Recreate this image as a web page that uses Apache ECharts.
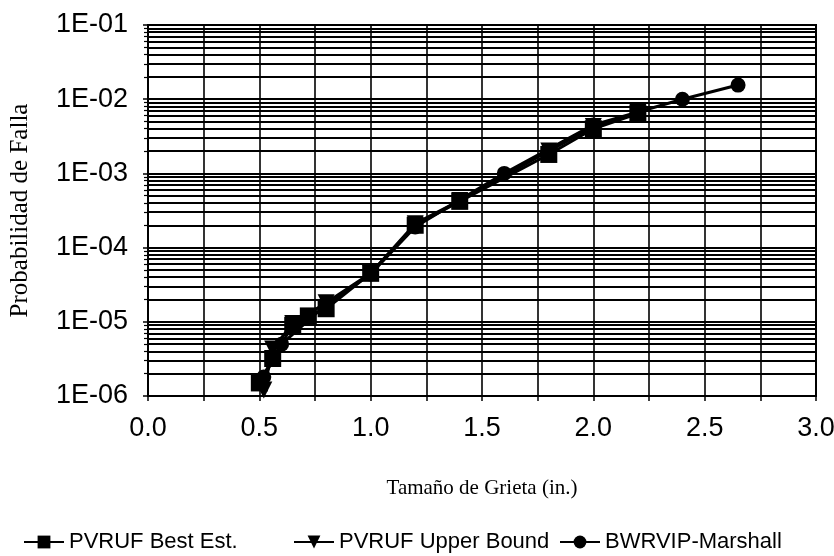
<!DOCTYPE html>
<html>
<head>
<meta charset="utf-8">
<title>Probabilidad de Falla vs Tamaño de Grieta</title>
<script src="https://cdn.jsdelivr.net/npm/echarts@6/dist/echarts.min.js"></script>
<style>
  html, body { margin: 0; padding: 0; background: #ffffff; }
  #chart { width: 834px; height: 556px; }
</style>
</head>
<body>
<div id="chart"></div>
<script>
// Crack size (in.) and failure probability for each model
const bestEstX = [0.50, 0.56, 0.65, 0.72, 0.80, 1.00, 1.20, 1.40, 1.80, 2.00, 2.20];
const bestEstY = [1.5e-6, 3.2e-6, 9.0e-6, 1.2e-5, 1.5e-5, 4.5e-5, 2.0e-4, 4.2e-4, 1.8e-3, 4.0e-3, 6.4e-3];

const upperX = [0.52, 0.56, 0.65, 0.80, 1.00, 1.20, 1.40, 1.80, 2.00, 2.20];
const upperY = [1.2e-6, 4.3e-6, 9.5e-6, 1.8e-5, 4.5e-5, 2.1e-4, 4.3e-4, 2.0e-3, 4.3e-3, 6.6e-3];

const marshallX = [0.52, 0.60, 0.80, 1.00, 1.20, 1.40, 1.60, 2.00, 2.40, 2.65];
const marshallY = [1.8e-6, 5.0e-6, 1.7e-5, 4.4e-5, 1.9e-4, 4.4e-4, 1.0e-3, 4.5e-3, 1.0e-2, 1.55e-2];

const seriesNames = ['PVRUF Best Est.', 'PVRUF Upper Bound', 'BWRVIP-Marshall'];
const yTickLabels = ['1E-06', '1E-05', '1E-04', '1E-03', '1E-02', '1E-01'];
const xTickLabels = ['0.0', '0.5', '1.0', '1.5', '2.0', '2.5', '3.0'];

const zip = (xs, ys) => xs.map((x, i) => [x, ys[i]]);

const sansFont = '"Liberation Sans", Arial, sans-serif';
const serifFont = '"Liberation Serif", "Times New Roman", serif';

const lineStyle = { color: '#000', width: 3 };
const itemStyle = { color: '#000' };

const chart = echarts.init(document.getElementById('chart'), null, { renderer: 'canvas' });

function legendAt(name, left) {
  return {
    data: [name],
    left: left,
    top: 526,
    itemWidth: 40,
    itemHeight: 16,
    itemGap: 6,
    textStyle: { fontFamily: sansFont, fontSize: 22, color: '#000' },
    selectedMode: false
  };
}

chart.setOption({
  backgroundColor: '#ffffff',
  animation: false,
  grid: {
    left: 148, right: 18, top: 25, bottom: 160,
    outerBoundsMode: 'none',
    containLabel: false,
    show: true, borderColor: '#000', borderWidth: 2, backgroundColor: 'transparent'
  },
  legend: [
    legendAt(seriesNames[0], 18),
    legendAt(seriesNames[1], 288),
    legendAt(seriesNames[2], 554)
  ],
  xAxis: {
    type: 'value',
    min: 0, max: 3, interval: 0.5,
    name: 'Tamaño de Grieta (in.)',
    nameLocation: 'middle',
    nameGap: 82,
    nameTextStyle: { fontFamily: serifFont, fontSize: 21, color: '#000' },
    axisLine: { show: true, lineStyle: { color: '#000', width: 2 } },
    axisTick: { show: true, length: 5, lineStyle: { color: '#000', width: 1.5 } },
    minorTick: { show: true, splitNumber: 2, length: 5, lineStyle: { color: '#000', width: 1.5 } },
    axisLabel: {
      margin: 19,
      fontFamily: sansFont, fontSize: 27, color: '#000',
      formatter: v => xTickLabels[Math.round(v / 0.5)]
    },
    splitLine: { show: true, lineStyle: { color: '#000', width: 1.6 } },
    minorSplitLine: { show: true, lineStyle: { color: '#000', width: 1.6 } }
  },
  yAxis: {
    type: 'log',
    logBase: 10,
    min: 1e-6, max: 1e-1,
    name: 'Probabilidad de Falla',
    nameLocation: 'middle',
    nameGap: 115,
    nameTextStyle: { fontFamily: serifFont, fontSize: 25, color: '#000' },
    axisLine: { show: true, lineStyle: { color: '#000', width: 2 } },
    axisTick: { show: true, length: 5, lineStyle: { color: '#000', width: 1.5 } },
    minorTick: { show: true, splitNumber: 9, length: 4, lineStyle: { color: '#000', width: 1.2 } },
    axisLabel: {
      margin: 20,
      fontFamily: sansFont, fontSize: 27, color: '#000',
      formatter: v => yTickLabels[Math.round(Math.log10(v)) + 6]
    },
    splitLine: { show: true, lineStyle: { color: '#000', width: 2 } },
    minorSplitLine: { show: true, lineStyle: { color: '#000', width: 1.8 } }
  },
  series: [
    {
      name: seriesNames[1],
      type: 'line',
      data: zip(upperX, upperY),
      symbol: 'triangle',
      symbolRotate: 180,
      symbolSize: 17,
      showAllSymbol: true,
      lineStyle: lineStyle,
      itemStyle: itemStyle
    },
    {
      name: seriesNames[0],
      type: 'line',
      data: zip(bestEstX, bestEstY),
      symbol: 'rect',
      symbolSize: 17,
      showAllSymbol: true,
      lineStyle: lineStyle,
      itemStyle: itemStyle
    },
    {
      name: seriesNames[2],
      type: 'line',
      data: zip(marshallX, marshallY),
      symbol: 'circle',
      symbolSize: 15,
      showAllSymbol: true,
      lineStyle: lineStyle,
      itemStyle: itemStyle
    }
  ]
});
</script>
</body>
</html>
